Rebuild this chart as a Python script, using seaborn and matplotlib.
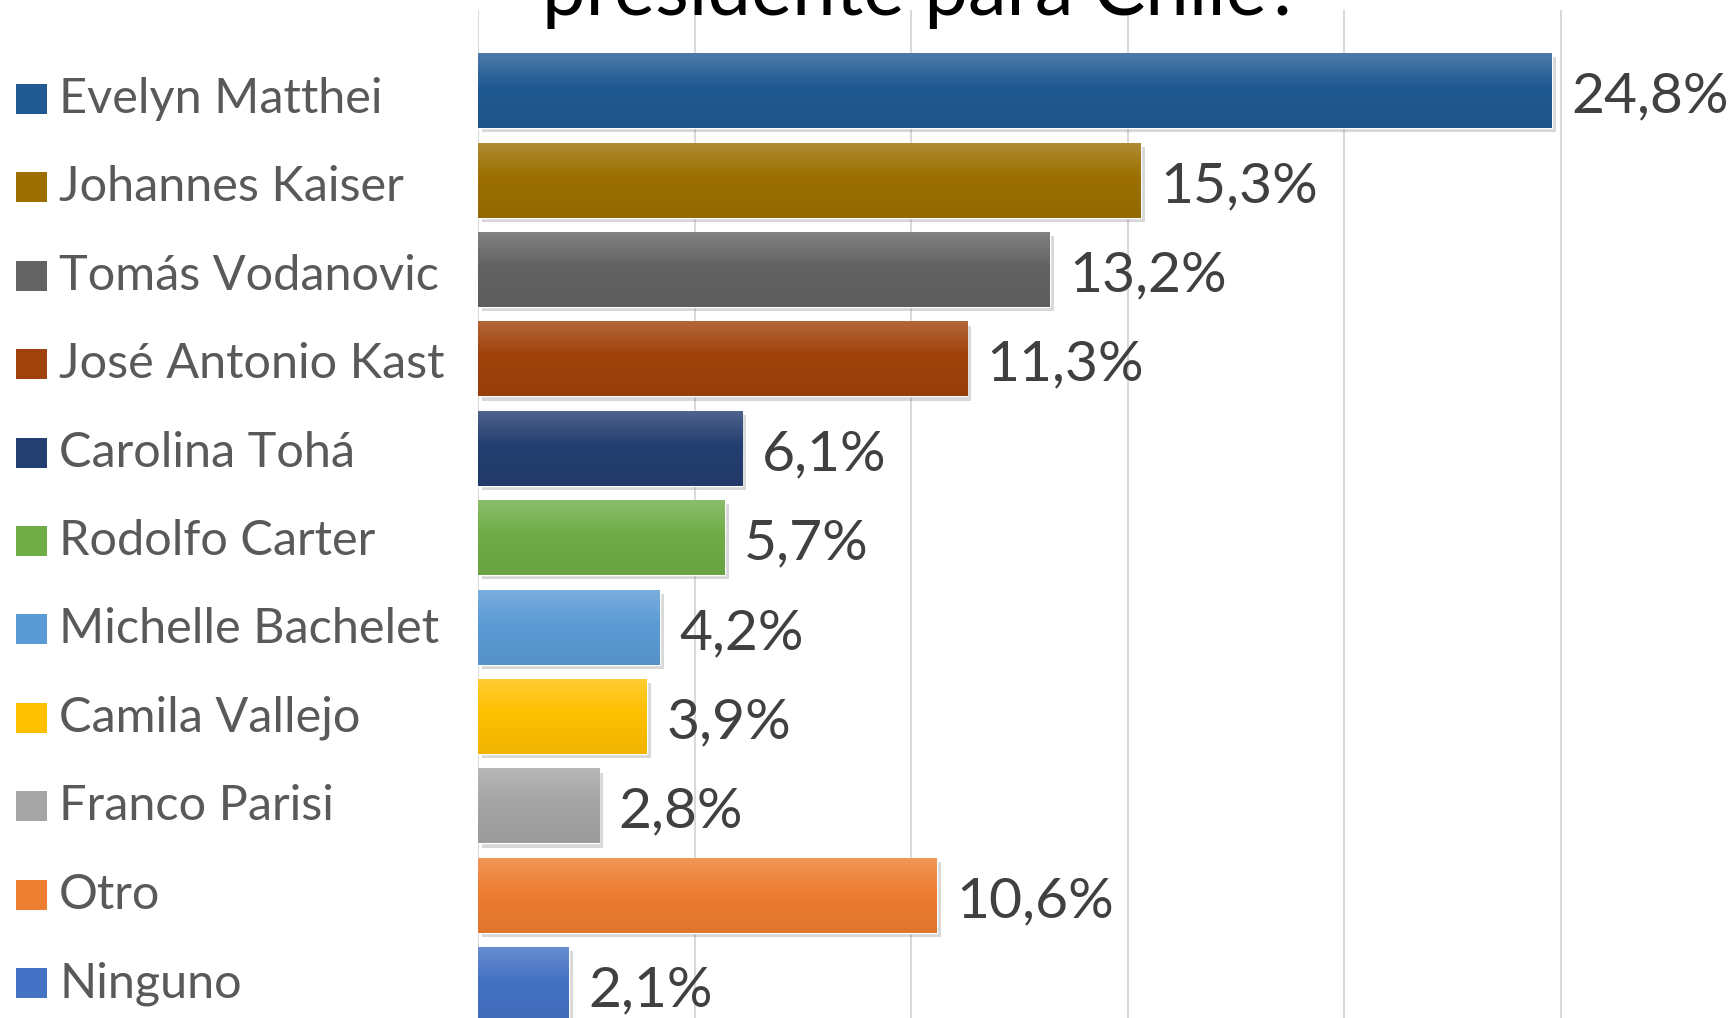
import matplotlib
matplotlib.use("Agg")
import matplotlib.pyplot as plt
from matplotlib.patches import Rectangle
import matplotlib.patheffects as pe
import seaborn as sns
import numpy as np
import pandas as pd

# data
candidatos = ["Evelyn Matthei", "Johannes Kaiser", "Tomás Vodanovic", "José Antonio Kast",
              "Carolina Tohá", "Rodolfo Carter", "Michelle Bachelet", "Camila Vallejo",
              "Franco Parisi", "Otro", "Ninguno"]
porcentajes = [24.8, 15.3, 13.2, 11.3, 6.1, 5.7, 4.2, 3.9, 2.8, 10.6, 2.1]
colores = ["#215A92", "#9C7000", "#636363", "#A0420B", "#233E70", "#70AD47",
           "#5B9BD5", "#FFC000", "#A5A5A5", "#ED7D31", "#4472C4"]
titulo = "presidente para Chile?"

df = pd.DataFrame({"candidato": candidatos, "pct": porcentajes})

sns.set_theme(style="white")
plt.rcParams['font.family'] = ['Lato', 'DejaVu Sans']

W, H = 1732, 1018
fig = plt.figure(figsize=(W / 100, H / 100), dpi=100)
ax = fig.add_axes([478 / W, 0, 1 - 478 / W, 1 - 10 / H])

sns.barplot(data=df, x="pct", y="candidato", hue="candidato", palette=colores,
            saturation=1, width=0.839, legend=False, ax=ax, zorder=2)

ylim = (10.373, -0.902)
xlim = (0, 28.96)

# gradient fill + soft shadow on each bar
for patch in ax.patches:
    patch.set_path_effects([pe.SimplePatchShadow(offset=(3, -3), shadow_rgbFace="#7f7f7f", alpha=0.3),
                            pe.Normal()])
    x0, y0 = patch.get_xy()
    w, h = patch.get_width(), patch.get_height()
    base = np.array(patch.get_facecolor()[:3])
    t = np.linspace(0, 1, 64)[:, None]
    top = base + (1 - base) * 0.2
    bot = base * 0.94
    rgb = np.where(t < 0.45, top + (base - top) * (t / 0.45), base + (bot - base) * ((t - 0.45) / 0.55))
    img = np.concatenate([rgb, np.ones_like(t)], axis=1)[:, None, :]
    im = ax.imshow(img, extent=[x0, x0 + w, y0 + h, y0], aspect="auto", zorder=3,
                   interpolation="bilinear")
    im.set_clip_path(patch)

for i, v in enumerate(porcentajes):
    ax.annotate(f"{v:.1f}%".replace(".", ","), xy=(v, i), xytext=(14, -15.8),
                textcoords="offset points", va="baseline", ha="left",
                fontsize=41, color="#404040", zorder=4)

ax.set_xlim(*xlim)
ax.set_ylim(*ylim)
ax.set_xticks(np.arange(0, 30, 5))
ax.grid(axis="x", color="#D9D9D9", linewidth=1.5, zorder=0)
ax.set_axisbelow(True)
ax.tick_params(left=False, bottom=False, labelleft=False, labelbottom=False)
for s in ax.spines.values():
    s.set_visible(False)
ax.set_xlabel("")
ax.set_ylabel("")

# legend column on the left (its own row spacing, slightly tighter than the bars)
paso = 88.4
for i, (name, col) in enumerate(zip(candidatos, colores)):
    top_px = 84 + i * paso
    fig.patches.append(Rectangle((16 / W, 1 - (top_px + 30) / H), 31 / W, 30 / H,
                                 transform=fig.transFigure, facecolor=col, edgecolor="none"))
    fig.text(59 / W, 1 - (top_px + 29) / H, name, fontsize=35, color="#595959",
             va="baseline", ha="left")

fig.text(922 / W, 1 - 15 / H, titulo, ha="center", va="baseline", fontsize=56, color="black")

fig.savefig("out.png", dpi=100)
